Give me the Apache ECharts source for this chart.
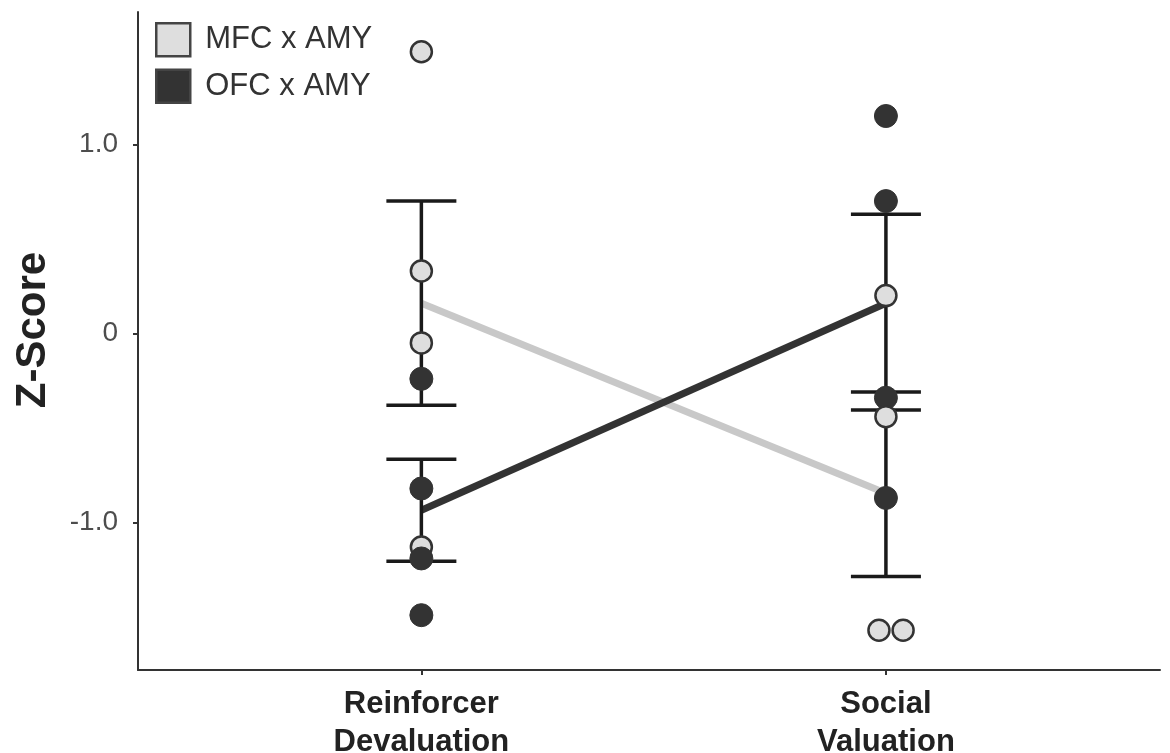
<!DOCTYPE html>
<html>
<head>
<meta charset="utf-8">
<script src="https://cdn.jsdelivr.net/npm/echarts@6/dist/echarts.min.js"></script>
<style>
  html, body { margin: 0; padding: 0; background: #fff; }
  #chart { width: 1170px; height: 753px; }
</style>
</head>
<body>
<div id="chart"></div>
<script>
const categories = ["Reinforcer\nDevaluation", "Social\nValuation"];
const yTicks = [-1, 0, 1];

// individual z-scores [category position, value]
const mfcPoints = [[1, 1.49], [1, 0.33], [1, -0.05], [1, -1.13], [2, 0.20], [2, -0.44], [1.985, -1.57], [2.037, -1.57]];
const ofcPoints = [[1, -0.24], [1, -0.82], [1, -1.19], [1, -1.49], [2, 1.15], [2, 0.70], [2, -0.34], [2, -0.87]];

// means and error-bar half widths per category
const mfcMean = [0.16, -0.845];
const mfcErr = [0.54, 0.44];
const ofcMean = [-0.935, 0.16];
const ofcErr = [0.27, 0.47];

const FONT = "Liberation Sans";
const LIGHT = "#dedede";
const DARK = "#333333";

function meanLine(means) {
  return means.map((m, i) => [i + 1, m]);
}

function errorData(means, errs) {
  return means.map((m, i) => [i + 1, m - errs[i], m + errs[i]]);
}

function renderErrorBar(params, api) {
  const x = api.value(0);
  const lo = api.coord([x, api.value(1)]);
  const hi = api.coord([x, api.value(2)]);
  const half = 35;
  const style = { stroke: "#1a1a1a", lineWidth: 3.5 };
  return {
    type: "group",
    children: [
      { type: "line", shape: { x1: lo[0], y1: lo[1], x2: hi[0], y2: hi[1] }, style: style },
      { type: "line", shape: { x1: hi[0] - half, y1: hi[1], x2: hi[0] + half, y2: hi[1] }, style: style },
      { type: "line", shape: { x1: lo[0] - half, y1: lo[1], x2: lo[0] + half, y2: lo[1] }, style: style },
    ],
  };
}

const mfcStyle = { color: LIGHT, borderColor: DARK, borderWidth: 2.5, opacity: 1 };
const ofcStyle = { color: DARK, borderColor: DARK, borderWidth: 1, opacity: 1 };

const myChart = echarts.init(document.getElementById("chart"));
const option = {
  animation: false,
  textStyle: { fontFamily: FONT },
  grid: { left: 138, right: 10, top: 12, bottom: 83, outerBoundsMode: "none", containLabel: false },
  legend: {
    orient: "vertical",
    left: 155,
    top: 22,
    padding: 0,
    itemWidth: 34,
    itemHeight: 33,
    itemGap: 11,
    textStyle: { fontSize: 31, color: "#333", fontFamily: FONT, padding: [0, 0, 0, 10] },
    data: [
      { name: "MFC x AMY", icon: "rect", itemStyle: { color: LIGHT, borderColor: "#444", borderWidth: 2.5 } },
      { name: "OFC x AMY", icon: "rect", itemStyle: { color: DARK, borderColor: "#444", borderWidth: 2.5 } },
    ],
  },
  xAxis: {
    type: "value",
    min: 0.39,
    max: 2.59,
    splitLine: { show: false },
    axisLine: { onZero: false, lineStyle: { color: "#333", width: 2 } },
    axisTick: { show: true, length: 5, customValues: [1, 2], lineStyle: { color: "#333", width: 2 } },
    axisLabel: {
      customValues: [1, 2],
      formatter: (v) => categories[Math.round(v) - 1],
      fontSize: 31,
      fontWeight: "bold",
      color: "#222",
      lineHeight: 38,
      margin: 15,
      fontFamily: FONT,
    },
  },
  yAxis: {
    type: "value",
    min: -1.78,
    max: 1.70,
    name: "Z-Score",
    nameLocation: "middle",
    nameRotate: 90,
    nameGap: 84,
    nameTextStyle: { fontSize: 42, fontWeight: "bold", color: "#222", fontFamily: FONT, padding: [0, 0, 0, 22] },
    splitLine: { show: false },
    axisLine: { show: true, onZero: false, lineStyle: { color: "#333", width: 2 } },
    axisTick: { show: true, length: 5, customValues: yTicks, lineStyle: { color: "#333", width: 2 } },
    axisLabel: {
      customValues: yTicks,
      formatter: (v) => (v === 0 ? "0" : v.toFixed(1)),
      fontSize: 28,
      color: "#4d4d4d",
      margin: 20,
      fontFamily: FONT,
    },
  },
  series: [
    {
      name: "MFC x AMY",
      type: "line",
      data: meanLine(mfcMean),
      symbol: "none",
      lineStyle: { color: "#c8c8c8", width: 7 },
      z: 1,
    },
    {
      name: "OFC x AMY",
      type: "line",
      data: meanLine(ofcMean),
      symbol: "none",
      lineStyle: { color: DARK, width: 7 },
      z: 1,
    },
    {
      type: "custom",
      renderItem: renderErrorBar,
      data: errorData(mfcMean, mfcErr),
      z: 2,
    },
    {
      type: "custom",
      renderItem: renderErrorBar,
      data: errorData(ofcMean, ofcErr),
      z: 2,
    },
    // left-hand MFC points sit under the OFC points, right-hand ones on top
    {
      name: "MFC x AMY",
      type: "scatter",
      data: mfcPoints.filter((p) => p[0] < 1.5),
      symbolSize: 21,
      itemStyle: mfcStyle,
      z: 3,
    },
    {
      name: "OFC x AMY",
      type: "scatter",
      data: ofcPoints,
      symbolSize: 23,
      itemStyle: ofcStyle,
      z: 3,
    },
    {
      name: "MFC x AMY",
      type: "scatter",
      data: mfcPoints.filter((p) => p[0] >= 1.5),
      symbolSize: 21,
      itemStyle: mfcStyle,
      z: 3,
    },
  ],
};
myChart.setOption(option);
window.addEventListener("resize", () => {
  myChart.resize();
});
</script>
</body>
</html>
